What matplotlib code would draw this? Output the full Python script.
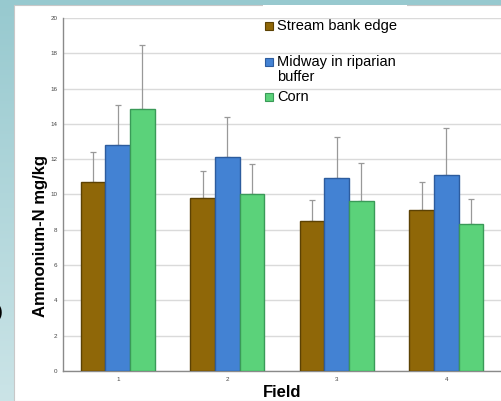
import numpy as np
import matplotlib
matplotlib.use("Agg")
import matplotlib.pyplot as plt
from matplotlib.patches import Rectangle

plt.rcParams['font.family'] = ['Liberation Sans', 'DejaVu Sans']

# valores
fields = ['1', '2', '3', '4']
series_names = ['Stream bank edge', 'Midway in riparian\nbuffer', 'Corn']
stream_edge = [10.7, 9.8, 8.52, 9.13]
midway = [12.78, 12.15, 10.92, 11.09]
corn = [14.86, 10.01, 9.62, 8.31]
# topo das barras de erro
stream_edge_top = [12.39, 11.31, 9.69, 10.69]
midway_top = [15.05, 14.37, 13.26, 13.78]
corn_top = [18.47, 11.74, 11.77, 9.74]

colors = ['#8f6708', '#4382d3', '#5bd27a']
edges = ['#5c4204', '#2d5c9e', '#3a9a58']

fig = plt.figure(figsize=(5.01, 4.01), dpi=100)

# fundo azulado com painel branco
bg = fig.add_axes([0, 0, 1, 1], zorder=-10)
grad = np.linspace(0, 1, 256).reshape(-1, 1)
top_c = np.array([0x97, 0xc9, 0xcf]) / 255
bot_c = np.array([0xcb, 0xe4, 0xe7]) / 255
img = top_c[None, None, :] * (1 - grad[:, :, None]) + bot_c[None, None, :] * grad[:, :, None]
bg.imshow(img, aspect='auto', extent=[0, 1, 0, 1], origin='upper')
bg.add_patch(Rectangle((14 / 501, 0), 1, 1 - 5 / 401, facecolor='white',
                       edgecolor='#c8c8c8', linewidth=0.8))
bg.set_xlim(0, 1)
bg.set_ylim(0, 1)
bg.axis('off')

ax = fig.add_axes([63 / 501, 30 / 401, 438 / 501, 353 / 401])
ax.patch.set_alpha(0)

x = np.arange(1, len(fields) + 1)
w = 0.224
data = [stream_edge, midway, corn]
tops = [stream_edge_top, midway_top, corn_top]
for i, (vals, tp) in enumerate(zip(data, tops)):
    pos = x + (i - 1) * w
    err = np.array(tp) - np.array(vals)
    ax.bar(pos, vals, w, color=colors[i], edgecolor=edges[i], linewidth=1, zorder=3)
    ax.errorbar(pos, vals, yerr=[np.zeros(len(vals)), err], fmt='none',
                ecolor='#999999', elinewidth=0.9, capsize=2, capthick=0.9, zorder=2)

ax.set_xlim(0.5, 4.5)
ax.set_ylim(0, 20)
ax.set_yticks(range(0, 21, 2))
ax.set_xticks(x)
ax.set_xticklabels(fields)
ax.tick_params(axis='both', length=0, labelsize=4.5, labelcolor='#444444')
ax.tick_params(axis='y', pad=4)
ax.tick_params(axis='x', pad=4)
ax.grid(axis='y', color='#dadada', linewidth=1, zorder=0)
ax.set_axisbelow(True)
for s in ['top', 'right']:
    ax.spines[s].set_visible(False)
for s in ['left', 'bottom']:
    ax.spines[s].set_color('#8a8a8a')
    ax.spines[s].set_linewidth(1)

fig.text(41 / 501, 1 - 236 / 401, 'Ammonium-N mg/kg', rotation=90, ha='center',
         va='center', fontsize=12, fontweight='bold')
fig.text(282 / 501, 1 - 397 / 401, 'Field', ha='center', va='baseline',
         fontsize=12, fontweight='bold')
fig.text(3 / 501, 1 - 313 / 401, ')', ha='right', va='center', fontsize=12,
         fontweight='bold')

# legenda desenhada a mao (marcador alinhado com a primeira linha)
bg.add_patch(Rectangle((263 / 501, 1 - 123 / 401), 144 / 501, 118 / 401,
                       facecolor='white', edgecolor='none', zorder=5))
leg_y = [26, 62, 97]
for name, c, e, yy in zip(series_names, colors, edges, leg_y):
    fy = 1 - yy / 401
    bg.add_patch(Rectangle((265 / 501, fy - 4 / 401), 8 / 501, 8 / 401,
                           facecolor=c, edgecolor=e, linewidth=0.8, zorder=6))
    bg.text(277 / 501, fy + 7 / 401, name, ha='left', va='top', fontsize=10.5,
            linespacing=1.1, zorder=7)

fig.savefig('out.png', dpi=100)
